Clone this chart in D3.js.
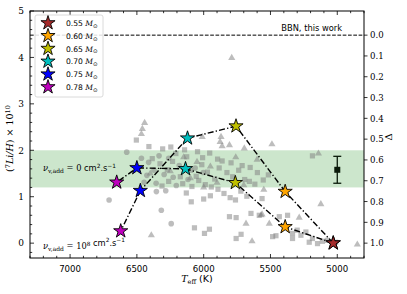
<!DOCTYPE html>
<html><head><meta charset="utf-8">
<script src="https://cdn.jsdelivr.net/npm/d3@7"></script>
<style>body{margin:0;background:#fff}svg text{fill:#000}</style>
</head><body><svg id="c" width="407" height="294"></svg>
<script>
// ---- data ----
const masses = ["0.55","0.60","0.65","0.70","0.75","0.78"];
const starColors = ["#a52a2a","#ffa500","#bfbf00","#00bfbf","#0000ff","#bf00bf"];
// nu_add = 1e8 track (Teff, Li) for masses 0.55..0.78
const trackHiTeff = [5030, 5390, 5758, 6121, 6474, 6621];
const trackHiLi   = [0.00, 1.11, 2.52, 2.26, 1.13, 0.26];
// nu_add = 0 track
const trackLoTeff = [5030, 5390, 5763, 6136, 6500, 6651];
const trackLoLi   = [0.00, 0.35, 1.30, 1.60, 1.62, 1.31];
const bbnLi = 4.48;
const bandLi = [1.2, 2.0];
const obsPoint = {teff: 5000, li: 1.58, err: 0.29};
const xTicks = [7000, 6500, 6000, 5500, 5000];
const yTicks = [0, 1, 2, 3, 4, 5];
const deltaTicks = [0.0,0.1,0.2,0.3,0.4,0.5,0.6,0.7,0.8,0.9,1.0];
const circles = [[6708,0.93],[6576,1.96],[6466,1.83],[6354,1.11],[6317,0.71],[6243,0.42],
 [6412,1.74],[6372,1.57],[6334,1.88],[6296,1.48],[6262,1.83],[6228,1.42],[6183,1.67],
 [6117,1.37],[6064,1.62],[6446,1.31],[6284,1.13],[6205,1.24],[6003,1.52],[6356,1.29],[6425,1.46]];
const squares = [[6504,2.22],[6410,2.08],[6307,2.03],[6246,2.07],[6208,1.93],[6143,2.01],
 [6127,1.86],[6046,1.97],[6008,1.84],[5955,1.94],[5896,1.81],[5862,1.77],[5795,1.73],
 [5712,1.67],[5652,1.63],[5598,1.52],[5554,1.36],[5516,1.47],[6385,1.82],[6327,1.71],
 [6272,1.58],[6233,1.76],[6175,1.43],[6098,1.57],[6056,1.44],[6014,1.69],[5972,1.53],
 [5917,1.38],[5884,1.62],[5826,1.52],[5783,1.43],[5738,1.57],[5693,1.37],[5658,1.33],
 [5617,1.27],[6312,1.23],[6262,1.33],[6157,1.28],[6088,1.22],[6037,1.35],[5988,1.26],
 [5943,1.21],[5893,1.16],[5848,1.07],[5802,0.98],[5762,0.93],[5722,1.12],[5677,1.01],
 [5186,1.88],[6093,0.89],[6069,0.33],[5957,0.30],[5994,0.21],[5807,0.57],[5757,0.55],
 [5646,0.64],[5757,0.10],[5720,0.19],[5584,0.60],[5563,0.96],[5434,0.57],[5372,0.60],
 [5484,0.14],[5459,0.16],[5335,0.21],[5300,0.28],[5272,0.17],[5235,0.24],[5210,0.02],
 [5186,0.10],[5148,-0.01],[5111,0.04],[5074,0.06],[5012,0.02],[5335,0.10],[6000,0.95],
 [5950,1.02],[6130,1.08]];
const triangles = [[5790,3.99],[6442,2.59],[6459,2.46],[6466,2.35],[6011,2.29],[5877,2.18],
 [5862,2.09],[5807,2.11],[5870,2.29],[5696,2.04],[5489,2.13],[5141,1.93],[5123,0.84],
 [5683,0.42],[5638,0.04],[5571,0.60],[5509,0.42],[5285,0.55],[4850,-0.03],[6392,0.17],
 [6150,1.85],[6050,1.75],[5950,1.65],[6250,1.55],[6100,1.40],[5900,1.30],[6000,1.20],
 [5760,1.85],[5600,1.80],[6400,1.50],[5700,1.25],[5550,1.15],[5563,0.62]];

// ---- chart ----
const svg = d3.select("#c");
const L = 30, R = 364, T = 11, B = 258;
const x = d3.scaleLinear().domain([7300, 4800]).range([L, R]);
const y = d3.scaleLinear().domain([-0.32, 5]).range([B, T]);
const yD = d3.scaleLinear().domain([0, 1]).range([y(bbnLi), y(0)]);

svg.append("defs").append("clipPath").attr("id","clp")
  .append("rect").attr("x",L).attr("y",T).attr("width",R-L).attr("height",B-T);
const g = svg.append("g").attr("clip-path","url(#clp)");

// band
g.append("rect").attr("x",L).attr("width",R-L)
 .attr("y",y(bandLi[1])).attr("height",y(bandLi[0])-y(bandLi[1]))
 .attr("fill","#008000").attr("fill-opacity",0.2);

// gray points
const gray = "#808080", gop = 0.52;
g.selectAll(".ci").data(circles).join("circle")
 .attr("cx",d=>x(d[0])).attr("cy",d=>y(d[1])).attr("r",2.8)
 .attr("fill",gray).attr("fill-opacity",gop);
g.selectAll(".sq").data(squares).join("rect")
 .attr("x",d=>x(d[0])-2.6).attr("y",d=>y(d[1])-2.6).attr("width",5.2).attr("height",5.2)
 .attr("fill",gray).attr("fill-opacity",gop);
const tri = d3.symbol().type(d3.symbolTriangle).size(22);
g.selectAll(".tr").data(triangles).join("path")
 .attr("d",tri).attr("transform",d=>`translate(${x(d[0])},${y(d[1])})`)
 .attr("fill",gray).attr("fill-opacity",gop);

// BBN line
g.append("line").attr("x1",L).attr("x2",R).attr("y1",y(bbnLi)).attr("y2",y(bbnLi))
 .attr("stroke","#000").attr("stroke-width",1).attr("stroke-dasharray","3.7,1.6");
svg.append("text").attr("x",342).attr("y",31).attr("text-anchor","end")
 .attr("font-family","DejaVu Sans").attr("font-size",8.3).text("BBN, this work");

// tracks
const line = d3.line().x(d=>x(d[0])).y(d=>y(d[1]));
const hi = trackHiTeff.map((t,i)=>[t,trackHiLi[i]]);
const lo = trackLoTeff.map((t,i)=>[t,trackLoLi[i]]);
[hi, lo].forEach(tr=>{
  g.append("path").attr("d",line(tr)).attr("fill","none").attr("stroke","#000")
   .attr("stroke-width",1.4).attr("stroke-dasharray","6,2.2,1.3,2.2");
});
// error bar
const ex = x(obsPoint.teff);
g.append("line").attr("x1",ex).attr("x2",ex).attr("y1",y(obsPoint.li+obsPoint.err)).attr("y2",y(obsPoint.li-obsPoint.err))
 .attr("stroke","#0a1a0a").attr("stroke-width",1.3);
[obsPoint.li+obsPoint.err, obsPoint.li-obsPoint.err].forEach(v=>{
  g.append("line").attr("x1",ex-4).attr("x2",ex+4).attr("y1",y(v)).attr("y2",y(v))
   .attr("stroke","#0a1a0a").attr("stroke-width",1.3);
});
g.append("rect").attr("x",ex-3).attr("y",y(obsPoint.li)-3).attr("width",6).attr("height",6).attr("fill","#0a1a0a");

// stars
const star = d3.symbol().type(d3.symbolStar).size(62);
[hi, lo].forEach(tr=>{
  g.selectAll(null).data(tr).join("path").attr("d",star)
   .attr("transform",d=>`translate(${x(d[0])},${y(d[1])})`)
   .attr("fill",(d,i)=>starColors[i]).attr("stroke","#000").attr("stroke-width",0.9);
});

// annotations
function nuText(yy, valParts){
  const t = svg.append("text").attr("x",43).attr("y",yy).attr("font-family","DejaVu Serif").attr("font-size",8.3);
  t.append("tspan").attr("font-style","italic").text("ν");
  t.append("tspan").attr("font-size",6).attr("dy",2).text("v,add");
  t.append("tspan").attr("dy",-2).text(" = ");
  valParts(t);
  t.append("tspan").attr("font-family","DejaVu Sans").text(" cm");
  t.append("tspan").attr("font-family","DejaVu Sans").attr("font-size",5.8).attr("dy",-3.5).text("2");
  t.append("tspan").attr("font-family","DejaVu Sans").attr("dy",3.5).text(".s");
  t.append("tspan").attr("font-family","DejaVu Sans").attr("font-size",5.8).attr("dy",-3.5).text("−1");
}
nuText(171, t=>t.append("tspan").text("0"));
nuText(249, t=>{ t.append("tspan").text("10"); t.append("tspan").attr("font-size",5.8).attr("dy",-3.5).text("8"); t.append("tspan").attr("dy",3.5).text(""); });

// frame
svg.append("rect").attr("x",L).attr("y",T).attr("width",R-L).attr("height",B-T)
 .attr("fill","none").attr("stroke","#000").attr("stroke-width",1);

// ticks
const tk = svg.append("g").attr("stroke","#000").attr("stroke-width",0.8);
d3.range(4800, 7301, 100).forEach(v=>{
  const major = v % 500 === 0, len = major ? 4 : 2.2;
  tk.append("line").attr("x1",x(v)).attr("x2",x(v)).attr("y1",B).attr("y2",B-len);
  tk.append("line").attr("x1",x(v)).attr("x2",x(v)).attr("y1",T).attr("y2",T+len);
});
d3.range(-0.2, 5.01, 0.2).forEach(v=>{
  v = Math.round(v*10)/10;
  const major = Math.abs(v - Math.round(v)) < 1e-6, len = major ? 4 : 2.2;
  tk.append("line").attr("x1",L).attr("x2",L+len).attr("y1",y(v)).attr("y2",y(v));
});
deltaTicks.forEach(v=>{
  tk.append("line").attr("x1",R).attr("x2",R+3.5).attr("y1",yD(v)).attr("y2",yD(v));
});
xTicks.forEach(v=>{
  svg.append("text").attr("x",x(v)).attr("y",B+14).attr("text-anchor","middle")
   .attr("font-family","DejaVu Sans").attr("font-size",8.6).text(v);
});
yTicks.forEach(v=>{
  svg.append("text").attr("x",L-6).attr("y",y(v)+3.3).attr("text-anchor","end")
   .attr("font-family","DejaVu Serif").attr("font-size",9).text(v);
});
deltaTicks.forEach(v=>{
  svg.append("text").attr("x",R+6).attr("y",yD(v)+3.3)
   .attr("font-family","DejaVu Serif").attr("font-size",8.6).text(v.toFixed(1));
});

// axis labels
const xl = svg.append("text").attr("x",(L+R)/2).attr("y",282).attr("text-anchor","middle")
 .attr("font-size",9.5);
xl.append("tspan").attr("font-family","DejaVu Serif").attr("font-style","italic").text("T");
xl.append("tspan").attr("font-family","DejaVu Serif").attr("font-size",6.5).attr("dy",2).text("eff");
xl.append("tspan").attr("font-family","DejaVu Sans").attr("dy",-2).text(" (K)");

const yl = svg.append("text").attr("transform",`translate(13,${(T+B)/2+4}) rotate(-90)`)
 .attr("text-anchor","middle").attr("font-family","DejaVu Serif").attr("font-size",9.5);
yl.append("tspan").text("(");
yl.append("tspan").attr("font-size",6.5).attr("dy",-3.5).text("7");
yl.append("tspan").attr("dy",3.5).attr("font-style","italic").text("Li/H");
yl.append("tspan").text(") × 10");
yl.append("tspan").attr("font-size",6.5).attr("dy",-3.5).text("10");

svg.append("text").attr("transform",`translate(392,137) rotate(-90)`).attr("text-anchor","middle")
 .attr("font-family","DejaVu Serif").attr("font-size",10).text("Δ");

// legend
const lg = svg.append("g");
lg.append("rect").attr("x",35).attr("y",15).attr("width",68).attr("height",82).attr("rx",2)
 .attr("fill","#fff").attr("fill-opacity",0.85).attr("stroke","#d0d0d0").attr("stroke-width",0.8);
masses.forEach((m,i)=>{
  const yy = 23 + i*12.8;
  lg.append("path").attr("d",star).attr("transform",`translate(48,${yy})`)
   .attr("fill",starColors[i]).attr("stroke","#000").attr("stroke-width",0.9);
  const t = lg.append("text").attr("x",66).attr("y",yy+3).attr("font-size",7.6);
  t.append("tspan").attr("font-family","DejaVu Sans").text(m+" ");
  t.append("tspan").attr("font-family","DejaVu Serif").attr("font-style","italic").text("M");
  t.append("tspan").attr("font-family","DejaVu Sans").attr("font-size",5.5).attr("dy",1.8).text("⊙");
});
</script></body></html>
